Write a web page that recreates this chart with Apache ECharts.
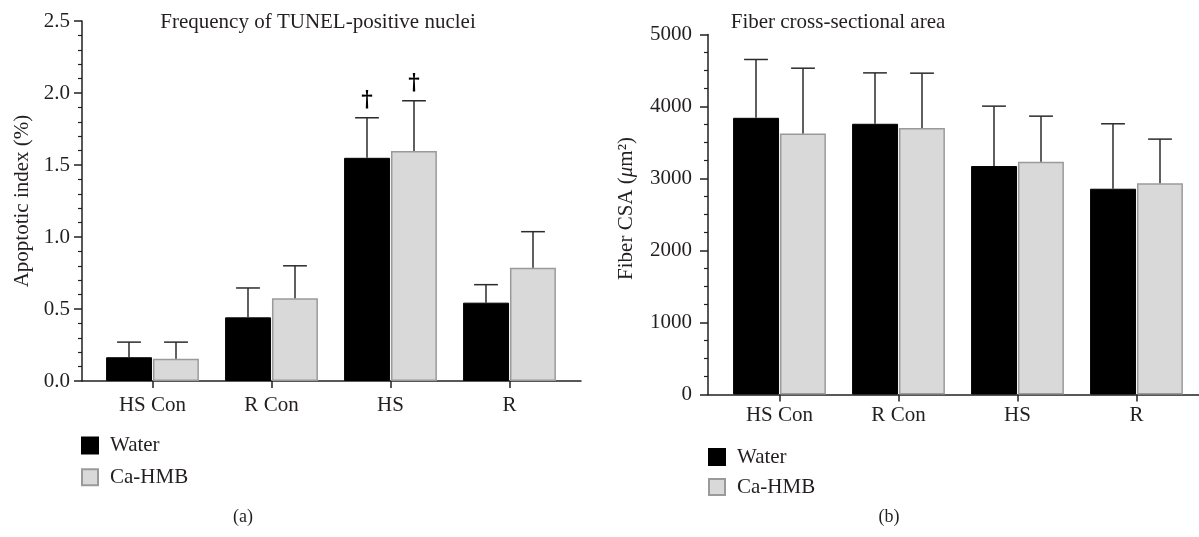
<!DOCTYPE html>
<html>
<head>
<meta charset="utf-8">
<script src="https://cdn.jsdelivr.net/npm/echarts@6/dist/echarts.min.js"></script>
<style>
  html, body { margin: 0; padding: 0; background: #fff; }
  #chart { width: 1199px; height: 537px; }
</style>
</head>
<body>
<div id="chart"></div>
<script>
// groups on the x axis
const groups = ['HS Con', 'R Con', 'HS', 'R']

// (a) apoptotic index, mean and mean + SD
const tunelWater = [0.165, 0.442, 1.55, 0.544]
const tunelWaterSd = [0.27, 0.646, 1.828, 0.669]
const tunelHmb = [0.155, 0.574, 1.597, 0.787]
const tunelHmbSd = [0.27, 0.80, 1.946, 1.037]
const tunelWaterMark = ['', '', '†', '']
const tunelHmbMark = ['', '', '†', '']

// (b) fiber CSA, mean and mean + SD
const csaWater = [3843, 3760, 3173, 2858]
const csaWaterSd = [4653, 4467, 4005, 3760]
const csaHmb = [3626, 3700, 3233, 2933]
const csaHmbSd = [4532, 4463, 3866, 3547]

const FONT = 'Liberation Serif'
const INK = '#231f20'
const FS = 21

const chart = echarts.init(document.getElementById('chart'))

// error bar (up only) drawn beside the bar: side -1 = first bar, +1 = second
const errorBar = (side, marks) => (params, api) => {
  const bw = api.size([1, 0])[0]
  const x = api.coord([api.value(0), 0])[0] + side * bw * 0.1975
  const y0 = api.coord([api.value(0), api.value(1)])[1]
  const y1 = api.coord([api.value(0), api.value(2)])[1]
  const half = bw * 0.1
  const style = { stroke: '#2b2b2b', lineWidth: 1.5 }
  const children = [
    { type: 'line', shape: { x1: x, y1: y0, x2: x, y2: y1 }, style },
    { type: 'line', shape: { x1: x - half, y1: y1, x2: x + half, y2: y1 }, style },
  ]
  const m = marks && marks[params.dataIndex]
  if (m) {
    children.push({
      type: 'text',
      style: {
        text: m, x: x, y: y1 - 6, align: 'center', verticalAlign: 'bottom',
        fontFamily: 'DejaVu Serif', fontSize: 22, fontWeight: 'bold', fill: '#000',
      },
    })
  }
  return { type: 'group', children }
}

const errData = (mean, top) => mean.map((v, i) => [i, v, top[i]])

const frameX = (grid) => ({
  type: 'value', gridIndex: grid, min: 0, max: 1,
  axisLine: { show: true, onZero: true, lineStyle: { color: INK, width: 1.5 } },
  axisTick: { show: false }, axisLabel: { show: false }, splitLine: { show: false },
})

const catX = (grid, margin) => ({
  type: 'category', gridIndex: grid, data: groups,
  axisLine: { show: false },
  axisTick: { show: true, alignWithLabel: true, length: 7, lineStyle: { color: INK, width: 1.5 } },
  axisLabel: { margin: margin, fontFamily: FONT, fontSize: FS, color: INK },
  splitLine: { show: false },
})

const hiddenY = (grid, max) => ({ type: 'value', gridIndex: grid, min: 0, max: max, show: false })

const legendText = { fontFamily: FONT, fontSize: FS, color: INK, padding: [0, 0, 0, 7] }
const titleText = { fontFamily: FONT, fontSize: FS, fontWeight: 'normal', color: INK }

const option = {
  backgroundColor: '#fff',
  animation: false,
  title: [
    { text: 'Frequency of TUNEL-positive nuclei', left: 318, top: 12, textAlign: 'center',
      padding: 0, textStyle: titleText },
    { text: 'Fiber cross-sectional area', left: 838, top: 12, textAlign: 'center',
      padding: 0, textStyle: titleText },
    { text: '(a)', left: 243, top: 508, textAlign: 'center', padding: 0,
      textStyle: { fontFamily: FONT, fontSize: 18, fontWeight: 'normal', color: INK } },
    { text: '(b)', left: 889, top: 508, textAlign: 'center', padding: 0,
      textStyle: { fontFamily: FONT, fontSize: 18, fontWeight: 'normal', color: INK } },
  ],
  legend: [
    { data: ['Water', 'Ca-HMB'], orient: 'vertical', left: 81, top: 435, padding: 0,
      itemWidth: 16, itemHeight: 16, itemGap: 10.7, icon: 'rect', selectedMode: false,
      textStyle: legendText },
    { data: ['Water', 'Ca-HMB'], orient: 'vertical', left: 708, top: 446.5, padding: 0,
      itemWidth: 16, itemHeight: 16, itemGap: 9, icon: 'rect', selectedMode: false,
      textStyle: legendText },
  ],
  grid: [
    // (a) frame and bars
    { left: 82, width: 499, top: 21, height: 360 },
    { left: 93, width: 476, top: 21, height: 360 },
    // (b) frame and bars
    { left: 708, width: 491, top: 34.5, height: 360 },
    { left: 720, width: 476, top: 34.5, height: 360 },
  ],
  xAxis: [frameX(0), catX(1, 14), frameX(2), catX(3, 10)],
  yAxis: [
    {
      type: 'value', gridIndex: 0, min: 0, max: 2.5, interval: 0.5,
      name: 'Apoptotic index (%)', nameLocation: 'middle', nameGap: 49.5,
      nameTextStyle: { fontFamily: FONT, fontSize: FS, color: INK },
      axisLine: { show: true, lineStyle: { color: INK, width: 1.5 } },
      axisTick: { show: true, length: 8, lineStyle: { color: INK, width: 1.5 } },
      minorTick: { show: true, splitNumber: 5, length: 4, lineStyle: { color: INK, width: 1.2 } },
      axisLabel: { margin: 12, fontFamily: FONT, fontSize: FS, color: INK,
        formatter: v => v.toFixed(1) },
      splitLine: { show: false },
    },
    hiddenY(1, 2.5),
    {
      type: 'value', gridIndex: 2, min: 0, max: 5000, interval: 1000,
      name: 'Fiber CSA ({i|μ}m²)', nameLocation: 'middle', nameGap: 71.5,
      nameTextStyle: { fontFamily: FONT, fontSize: FS, color: INK, padding: [0, 0, 0, 12],
        rich: { i: { fontFamily: FONT, fontSize: FS, fontStyle: 'italic', color: INK } } },
      axisLine: { show: true, lineStyle: { color: INK, width: 1.5 } },
      axisTick: { show: true, length: 8, lineStyle: { color: INK, width: 1.5 } },
      minorTick: { show: true, splitNumber: 4, length: 4, lineStyle: { color: INK, width: 1.2 } },
      axisLabel: { margin: 16, fontFamily: FONT, fontSize: FS, color: INK,
        formatter: v => String(v) },
      splitLine: { show: false },
    },
    hiddenY(3, 5000),
  ],
  series: [
    { name: 'Water', type: 'bar', xAxisIndex: 1, yAxisIndex: 1, data: tunelWater,
      barCategoryGap: '22%', barGap: '2%',
      itemStyle: { color: '#000', borderColor: '#000', borderWidth: 1 } },
    { name: 'Ca-HMB', type: 'bar', xAxisIndex: 1, yAxisIndex: 1, data: tunelHmb,
      barCategoryGap: '22%', barGap: '2%',
      itemStyle: { color: '#d9d9d9', borderColor: '#9a9a9a', borderWidth: 1.5 } },
    { name: 'Water', type: 'bar', xAxisIndex: 3, yAxisIndex: 3, data: csaWater,
      barCategoryGap: '22%', barGap: '2%',
      itemStyle: { color: '#000', borderColor: '#000', borderWidth: 1 } },
    { name: 'Ca-HMB', type: 'bar', xAxisIndex: 3, yAxisIndex: 3, data: csaHmb,
      barCategoryGap: '22%', barGap: '2%',
      itemStyle: { color: '#d9d9d9', borderColor: '#9a9a9a', borderWidth: 1.5 } },
    { name: 'Water SD a', type: 'custom', xAxisIndex: 1, yAxisIndex: 1, silent: true, z: 3,
      renderItem: errorBar(-1, tunelWaterMark), data: errData(tunelWater, tunelWaterSd) },
    { name: 'Ca-HMB SD a', type: 'custom', xAxisIndex: 1, yAxisIndex: 1, silent: true, z: 3,
      renderItem: errorBar(1, tunelHmbMark), data: errData(tunelHmb, tunelHmbSd) },
    { name: 'Water SD b', type: 'custom', xAxisIndex: 3, yAxisIndex: 3, silent: true, z: 3,
      renderItem: errorBar(-1, null), data: errData(csaWater, csaWaterSd) },
    { name: 'Ca-HMB SD b', type: 'custom', xAxisIndex: 3, yAxisIndex: 3, silent: true, z: 3,
      renderItem: errorBar(1, null), data: errData(csaHmb, csaHmbSd) },
  ],
}

chart.setOption(option)
</script>
</body>
</html>
